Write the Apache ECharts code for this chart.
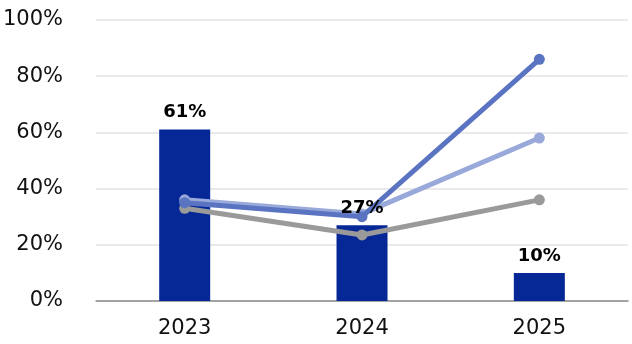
<!DOCTYPE html>
<html><head><meta charset="utf-8">
<script src="https://cdn.jsdelivr.net/npm/echarts@6/dist/echarts.min.js"></script>
<style>html,body{margin:0;padding:0;background:#fff}#c{width:632px;height:344px}</style>
</head><body><div id="c"></div>
<script>
var categories = ['2023', '2024', '2025'];
var barValues = [61, 27, 10];
var lineDark = [35, 30, 86];
var lineLight = [36, 31, 58];
var lineGray = [33, 23.5, 36];
var yTicks = [0, 20, 40, 60, 80, 100];

var font = '"DejaVu Sans", sans-serif';
var chart = echarts.init(document.getElementById('c'));
function lineSeries(data, color, z) {
  return {
    type: 'line', data: data, z: z,
    symbol: 'circle', symbolSize: 11,
    lineStyle: { width: 5, color: color },
    itemStyle: { color: color },
    animation: false
  };
}
chart.setOption({
  animation: false,
  grid: { left: 96, right: 4, top: 20, bottom: 43 },
  xAxis: {
    type: 'category', data: categories,
    axisLine: { lineStyle: { color: '#8c8c8c', width: 1.5 } },
    axisTick: { show: false },
    axisLabel: { color: '#111', fontSize: 21, fontFamily: font, margin: 17 }
  },
  yAxis: {
    type: 'value', min: 0, max: 100, interval: 20,
    axisLine: { show: false }, axisTick: { show: false },
    splitLine: { lineStyle: { color: '#e3e3e3', width: 1.5 } },
    axisLabel: { color: '#111', fontSize: 21, fontFamily: font, margin: 33,
      formatter: function (v) { return yTicks.indexOf(v) >= 0 ? v + '%' : ''; } }
  },
  series: [
    {
      type: 'bar', data: barValues, barWidth: 51, z: 2,
      itemStyle: { color: '#062897' }
    },
    lineSeries(lineGray, '#9a9a9a', 3),
    lineSeries(lineLight, '#98a9da', 4),
    lineSeries(lineDark, '#5b74c2', 5),
    {
      type: 'scatter', data: barValues, z: 10, symbolSize: 0,
      silent: true,
      itemStyle: { opacity: 1 },
      label: { show: true, position: 'top', distance: 8, formatter: '{c}%',
        color: '#000', fontWeight: 'bold', fontSize: 18, fontFamily: font }
    }
  ]
});
</script></body></html>
